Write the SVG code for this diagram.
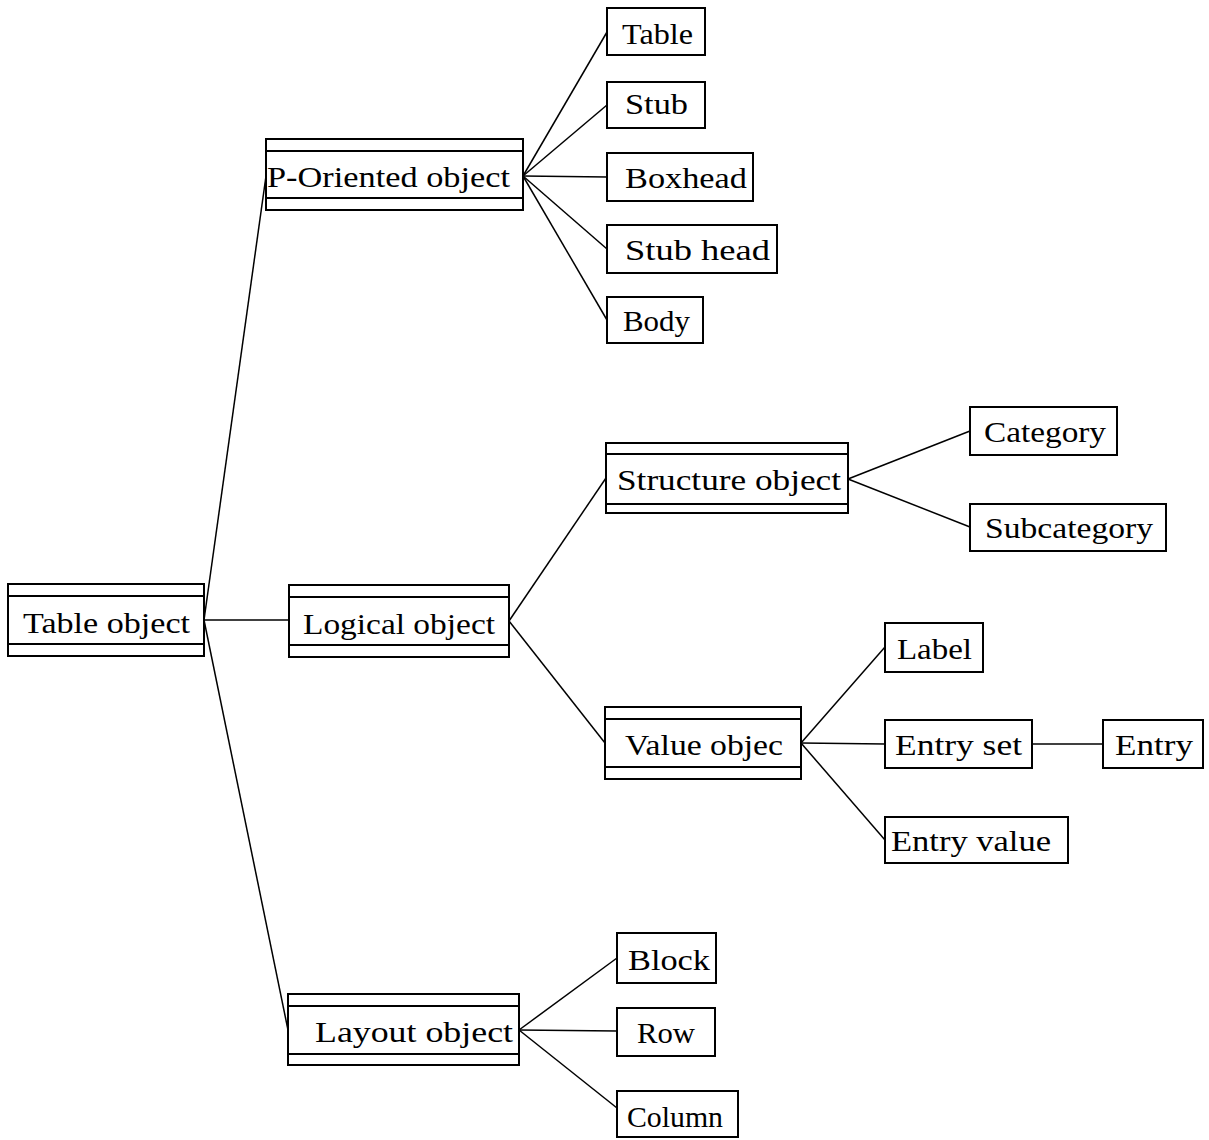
<svg xmlns="http://www.w3.org/2000/svg" width="1209" height="1140" viewBox="0 0 1209 1140">
<style>
.box{fill:#fff;stroke:#000;stroke-width:2}
.bar{stroke:#000;stroke-width:2}
.edge{stroke:#000;stroke-width:1.5;fill:none}
text{font-family:"Liberation Serif","DejaVu Serif",serif;font-size:30px;fill:#000}
</style>
<rect width="1209" height="1140" fill="#fff"/>
<g id="connectors">
<line class="edge" x1="204" y1="620" x2="266" y2="176"/>
<line class="edge" x1="204" y1="620" x2="289" y2="620"/>
<line class="edge" x1="204" y1="620" x2="288" y2="1030"/>
<line class="edge" x1="523" y1="176" x2="607" y2="32"/>
<line class="edge" x1="523" y1="176" x2="607" y2="105"/>
<line class="edge" x1="523" y1="176" x2="607" y2="177"/>
<line class="edge" x1="523" y1="176" x2="607" y2="249"/>
<line class="edge" x1="523" y1="176" x2="607" y2="320"/>
<line class="edge" x1="509" y1="621" x2="606" y2="478"/>
<line class="edge" x1="509" y1="621" x2="605" y2="743"/>
<line class="edge" x1="848" y1="479" x2="970" y2="431"/>
<line class="edge" x1="848" y1="479" x2="970" y2="527"/>
<line class="edge" x1="801" y1="743" x2="885" y2="647"/>
<line class="edge" x1="801" y1="743" x2="885" y2="744"/>
<line class="edge" x1="801" y1="743" x2="885" y2="840"/>
<line class="edge" x1="1032" y1="744" x2="1103" y2="744"/>
<line class="edge" x1="519" y1="1030" x2="617" y2="958"/>
<line class="edge" x1="519" y1="1030" x2="617" y2="1031"/>
<line class="edge" x1="519" y1="1030" x2="617" y2="1108"/>
</g>
<g id="table-object">
<rect class="box" x="8" y="584" width="196" height="72"/>
<line class="bar" x1="8" y1="596" x2="204" y2="596"/>
<line class="bar" x1="8" y1="644" x2="204" y2="644"/>
<text x="23" y="633" textLength="167" lengthAdjust="spacingAndGlyphs">Table object</text>
</g>
<g id="p-oriented-object">
<rect class="box" x="266" y="139" width="257" height="71"/>
<line class="bar" x1="266" y1="151" x2="523" y2="151"/>
<line class="bar" x1="266" y1="198" x2="523" y2="198"/>
<text x="267" y="187" textLength="243" lengthAdjust="spacingAndGlyphs">P-Oriented object</text>
</g>
<g id="logical-object">
<rect class="box" x="289" y="585" width="220" height="72"/>
<line class="bar" x1="289" y1="597" x2="509" y2="597"/>
<line class="bar" x1="289" y1="645" x2="509" y2="645"/>
<text x="303" y="634" textLength="192" lengthAdjust="spacingAndGlyphs">Logical object</text>
</g>
<g id="layout-object">
<rect class="box" x="288" y="994" width="231" height="71"/>
<line class="bar" x1="288" y1="1006" x2="519" y2="1006"/>
<line class="bar" x1="288" y1="1054" x2="519" y2="1054"/>
<text x="315" y="1042" textLength="198" lengthAdjust="spacingAndGlyphs">Layout object</text>
</g>
<g id="structure-object">
<rect class="box" x="606" y="443" width="242" height="70"/>
<line class="bar" x1="606" y1="454" x2="848" y2="454"/>
<line class="bar" x1="606" y1="504" x2="848" y2="504"/>
<text x="617" y="490" textLength="224" lengthAdjust="spacingAndGlyphs">Structure object</text>
</g>
<g id="value-object">
<rect class="box" x="605" y="707" width="196" height="72"/>
<line class="bar" x1="605" y1="719" x2="801" y2="719"/>
<line class="bar" x1="605" y1="767" x2="801" y2="767"/>
<text x="625" y="755" textLength="158" lengthAdjust="spacingAndGlyphs">Value objec</text>
</g>
<g id="table">
<rect class="box" x="607" y="8" width="98" height="47"/>
<text x="622" y="44" textLength="71" lengthAdjust="spacingAndGlyphs">Table</text>
</g>
<g id="stub">
<rect class="box" x="607" y="82" width="98" height="46"/>
<text x="625" y="114" textLength="63" lengthAdjust="spacingAndGlyphs">Stub</text>
</g>
<g id="boxhead">
<rect class="box" x="607" y="153" width="146" height="48"/>
<text x="625" y="188" textLength="122" lengthAdjust="spacingAndGlyphs">Boxhead</text>
</g>
<g id="stub-head">
<rect class="box" x="607" y="225" width="170" height="48"/>
<text x="625" y="260" textLength="145" lengthAdjust="spacingAndGlyphs">Stub head</text>
</g>
<g id="body">
<rect class="box" x="607" y="297" width="96" height="46"/>
<text x="623" y="331" textLength="67" lengthAdjust="spacingAndGlyphs">Body</text>
</g>
<g id="category">
<rect class="box" x="970" y="407" width="147" height="48"/>
<text x="984" y="442" textLength="122" lengthAdjust="spacingAndGlyphs">Category</text>
</g>
<g id="subcategory">
<rect class="box" x="970" y="504" width="196" height="47"/>
<text x="985" y="538" textLength="168" lengthAdjust="spacingAndGlyphs">Subcategory</text>
</g>
<g id="label">
<rect class="box" x="885" y="623" width="98" height="49"/>
<text x="897" y="659" textLength="75" lengthAdjust="spacingAndGlyphs">Label</text>
</g>
<g id="entry-set">
<rect class="box" x="885" y="720" width="147" height="48"/>
<text x="895" y="755" textLength="127" lengthAdjust="spacingAndGlyphs">Entry set</text>
</g>
<g id="entry">
<rect class="box" x="1103" y="720" width="100" height="48"/>
<text x="1115" y="755" textLength="78" lengthAdjust="spacingAndGlyphs">Entry</text>
</g>
<g id="entry-value">
<rect class="box" x="885" y="817" width="183" height="46"/>
<text x="891" y="851" textLength="160" lengthAdjust="spacingAndGlyphs">Entry value</text>
</g>
<g id="block">
<rect class="box" x="617" y="933" width="99" height="50"/>
<text x="628" y="970" textLength="82" lengthAdjust="spacingAndGlyphs">Block</text>
</g>
<g id="row">
<rect class="box" x="617" y="1008" width="98" height="48"/>
<text x="637" y="1043" textLength="58" lengthAdjust="spacingAndGlyphs">Row</text>
</g>
<g id="column">
<rect class="box" x="617" y="1091" width="121" height="46"/>
<text x="627" y="1127" textLength="96" lengthAdjust="spacingAndGlyphs">Column</text>
</g>
</svg>
